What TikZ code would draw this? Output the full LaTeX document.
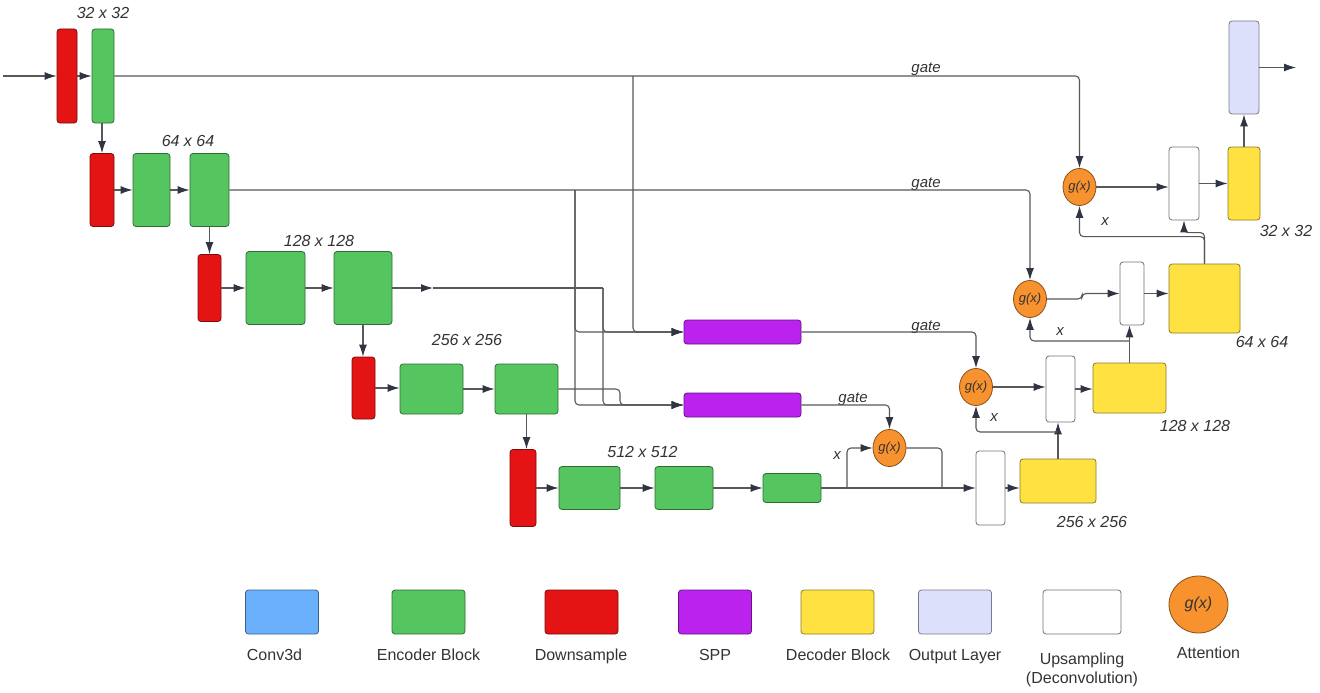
\documentclass[tikz,border=0pt]{standalone}
\usepackage{fontspec}
\setmainfont{Liberation Sans}
\usetikzlibrary{arrows.meta,positioning,shapes.geometric}
\definecolor{encgreen}{HTML}{54C55F}
\definecolor{dsred}{HTML}{E41414}
\definecolor{spppurple}{HTML}{BB22EE}
\definecolor{decyellow}{HTML}{FFE241}
\definecolor{outlav}{HTML}{DDE0FA}
\definecolor{attorange}{HTML}{F7922E}
\definecolor{convblue}{HTML}{6AB0FC}
\definecolor{wiregray}{HTML}{585858}
\definecolor{tipcol}{HTML}{2F3542}
\definecolor{txt}{HTML}{333333}
\begin{document}
\begin{tikzpicture}
    [x=1pt, y=-1pt,
    box/.style={draw=#1!55!black, fill=#1, line width=0.8pt, rounded corners=3pt, inner sep=0pt},
    sz/.style 2 args={minimum width=#1pt, minimum height=#2pt},
    ups/.style={draw=black!55, fill=white, line width=0.8pt, rounded corners=3pt, inner sep=0pt},
    att/.style={ellipse, draw=attorange!55!black, fill=attorange, line width=0.8pt, inner sep=0pt,
      minimum width=33pt, minimum height=37pt, font=\fontsize{13}{15}\selectfont\itshape, text=txt},
    wire/.style={draw=wiregray, line width=1.1pt, rounded corners=4pt},
    arr/.style={wire, -{Latex[length=12pt, width=8pt, color=tipcol]}},
    dimlbl/.style={font=\fontsize{16}{19}\selectfont\itshape, text=txt},
    tag/.style={font=\fontsize{15}{18}\selectfont\itshape, text=txt},
    lgd/.style={font=\fontsize{16}{19}\selectfont, text=txt, align=center, anchor=base}]
    \useasboundingbox (0,0) rectangle (1320,693);
    % encoder
    \node[box=dsred, sz={20}{94}] (down1) at (67,76) {};
    \node[box=encgreen, sz={22}{94}] (enc1) at (103,76) {};
    \node[box=dsred, sz={24}{73}] (down2) at (102,190) {};
    \node[box=encgreen, sz={37}{73}] (enc2a) at (151.5,190) {};
    \node[box=encgreen, sz={39}{73}] (enc2b) at (209.5,190) {};
    \node[box=dsred, sz={23}{67}] (down3) at (209.5,288) {};
    \node[box=encgreen, sz={59}{73}] (enc3a) at (275.5,288) {};
    \node[box=encgreen, sz={58}{73}] (enc3b) at (363,288) {};
    \node[box=dsred, sz={23}{62}] (down4) at (363.5,388) {};
    \node[box=encgreen, sz={63}{50}] (enc4a) at (431.5,389) {};
    \node[box=encgreen, sz={63}{50}] (enc4b) at (526.5,389) {};
    \node[box=dsred, sz={26}{77}] (down5) at (523,488) {};
    \node[box=encgreen, sz={61}{43}] (enc5a) at (589.5,488) {};
    \node[box=encgreen, sz={58}{43}] (enc5b) at (684,488) {};
    \node[box=encgreen, sz={58}{29}] (bneck) at (792,488) {};
    \node[box=spppurple, sz={117}{24}] (spp1) at (742.5,332) {};
    \node[box=spppurple, sz={117}{24}] (spp2) at (742.5,405) {};
    % decoder
    \node[att] (att1) at (1079.5,187) {g(x)};
    \node[att] (att2) at (1030,299) {g(x)};
    \node[att] (att3) at (976,387) {g(x)};
    \node[att] (att4) at (889.5,448) {g(x)};
    \node[ups, sz={29}{74}] (ups4) at (990.5,488) {};
    \node[box=decyellow, sz={76}{44}] (dec4) at (1058,481) {};
    \node[ups, sz={29}{66}] (ups3) at (1060.5,389) {};
    \node[box=decyellow, sz={73}{50}] (dec3) at (1129.5,388) {};
    \node[ups, sz={24}{63}] (ups2) at (1132,293.5) {};
    \node[box=decyellow, sz={71}{69}] (dec2) at (1204.5,298.5) {};
    \node[ups, sz={30}{73}] (ups1) at (1184,183.5) {};
    \node[box=decyellow, sz={32}{73}] (dec1) at (1244,183.5) {};
    \node[box=outlav, sz={30}{93}] (outl) at (1244,67.5) {};
    % sizes
    \node[dimlbl] (s32) at (103,13) {32 x 32};
    \node[dimlbl] (s64) at (188,141) {64 x 64};
    \node[dimlbl] (s128) at (319,241) {128 x 128};
    \node[dimlbl] (s256) at (467,340) {256 x 256};
    \node[dimlbl] (s512) at (642.5,452) {512 x 512};
    \node[dimlbl] (d256) at (1092,522) {256 x 256};
    \node[dimlbl] (d128) at (1195,426) {128 x 128};
    \node[dimlbl] (d64) at (1262,342) {64 x 64};
    \node[dimlbl] (d32) at (1286,231) {32 x 32};
    \node[tag, anchor=base] (gate1) at (926,73) {gate};
    \node[tag, anchor=base] (gate2) at (926,187) {gate};
    \node[tag, anchor=base] (gate3) at (926,330) {gate};
    \node[tag, anchor=base] (gate4) at (853,402) {gate};
    \node[tag] (x1) at (1105,222) {x};
    \node[tag] (x2) at (1060,332) {x};
    \node[tag] (x3) at (994,418) {x};
    \node[tag] (x4) at (837,456) {x};
    % encoder path
    \coordinate (in) at (3,76);
    \coordinate (out) at (1296,67.5);
    \draw[arr] (in) -- (down1);
    \draw[arr] (down1) -- (enc1);
    \draw[arr] (enc1.south -| down2) -- (down2.north);
    \draw[arr] (down2) -- (enc2a);
    \draw[arr] (enc2a) -- (enc2b);
    \draw[arr] (enc2b.south) -- (enc2b.south |- down3.north);
    \draw[arr] (down3) -- (enc3a);
    \draw[arr] (enc3a) -- (enc3b);
    \draw[arr] (enc3b.south) -- (enc3b.south |- down4.north);
    \draw[arr] (down4.east) -- (down4.east -| enc4a.west);
    \draw[arr] (enc4a) -- (enc4b);
    \draw[arr] (enc4b.south) -- (enc4b.south |- down5.north);
    \draw[arr] (down5) -- (enc5a);
    \draw[arr] (enc5a) -- (enc5b);
    \draw[arr] (enc5b) -- (bneck);
    % skips
    \coordinate (j1) at (633,76);
    \coordinate (j2) at (575,190);
    \coordinate (m3) at (433,288);
    \coordinate (j3) at (603,288);
    \coordinate (j4) at (620,389);
    \draw[arr] (enc1.east) -| (att1.north);
    \draw[arr] (j1) |- (spp1.west);
    \draw[arr] (enc2b.east) -| (att2.north);
    \draw[arr] (j2) |- (spp1.west);
    \draw[arr] (j2) |- (spp2.west);
    \draw[arr] (enc3b.east) -- (m3);
    \draw[wire] (m3) -- (j3);
    \draw[arr] (j3) |- (spp1.west);
    \draw[arr] (j3) |- (spp2.west);
    \draw[arr] (enc4b.east) -- (j4) |- (spp2.west);
    \draw[arr] (spp1.east) -| (att3.north);
    \draw[arr] (spp2.east) -| (att4.north);
    % decoder path
    \coordinate (j5) at (847,488);
    \coordinate (j6) at (942,488);
    \coordinate (j7) at (1058,432);
    \coordinate (j8) at (1129.5,341);
    \draw[arr] (bneck.east) -- (ups4.west);
    \draw[arr] (j5) |- (att4.west);
    \draw[wire] (att4.east) -| (j6);
    \draw[arr] (ups4.east) -- (ups4.east -| dec4.west);
    \draw[arr] (dec4.north) -- (dec4.north |- ups3.south);
    \draw[arr] (j7) -| (att3.south);
    \draw[arr] (att3.east) -- (att3.east -| ups3.west);
    \draw[arr] (ups3.east) -- (ups3.east -| dec3.west);
    \draw[arr] (dec3.north) -- (dec3.north |- ups2.south);
    \draw[arr] (j8) -| (att2.south);
    \draw[arr] (att2.east) -- (1082,299) |- (ups2.west);
    \draw[arr] (ups2.east) -- (ups2.east -| dec2.west);
    \draw[arr] (dec2.north) -- ++(0,-27) -| (att1.south);
    \draw[arr] (dec2.north) -- ++(0,-31) -| (ups1.south);
    \draw[arr] (att1.east) -- (att1.east -| ups1.west);
    \draw[arr] (ups1.east) -- (ups1.east -| dec1.west);
    \draw[arr] (dec1.north) -- (outl.south);
    \draw[arr] (outl.east) -- (out);
    % legend
    \node[box=convblue, sz={73}{44}] (lconv) at (282,612) {};
    \node[box=encgreen, sz={73}{44}] (lenc) at (428.5,612) {};
    \node[box=dsred, sz={73}{44}] (ldown) at (581.5,612) {};
    \node[box=spppurple, sz={73}{44}] (lspp) at (715,612) {};
    \node[box=decyellow, sz={73}{44}] (ldec) at (837.5,612) {};
    \node[box=outlav, sz={73}{44}] (lout) at (955,612) {};
    \node[ups, sz={78}{44}] (lups) at (1082,612) {};
    \node[att, minimum width=59pt, minimum height=57pt, font=\fontsize{16}{19}\selectfont\itshape] (latt) at (1198.5,604.5) {g(x)};
    \node[lgd] (tconv) at (274.5,660) {Conv3d};
    \node[lgd] (tenc) at (428.5,660) {Encoder Block};
    \node[lgd] (tdown) at (581,660) {Downsample};
    \node[lgd] (tspp) at (715,660) {SPP};
    \node[lgd] (tdec) at (838,660) {Decoder Block};
    \node[lgd] (tout) at (955,660) {Output Layer};
    \node[lgd] (tups) at (1082,664) {Upsampling};
    \node[lgd] (tdeconv) at (1082,683) {(Deconvolution)};
    \node[lgd] (tatt) at (1208.5,658) {Attention};
\end{tikzpicture}
\end{document}
